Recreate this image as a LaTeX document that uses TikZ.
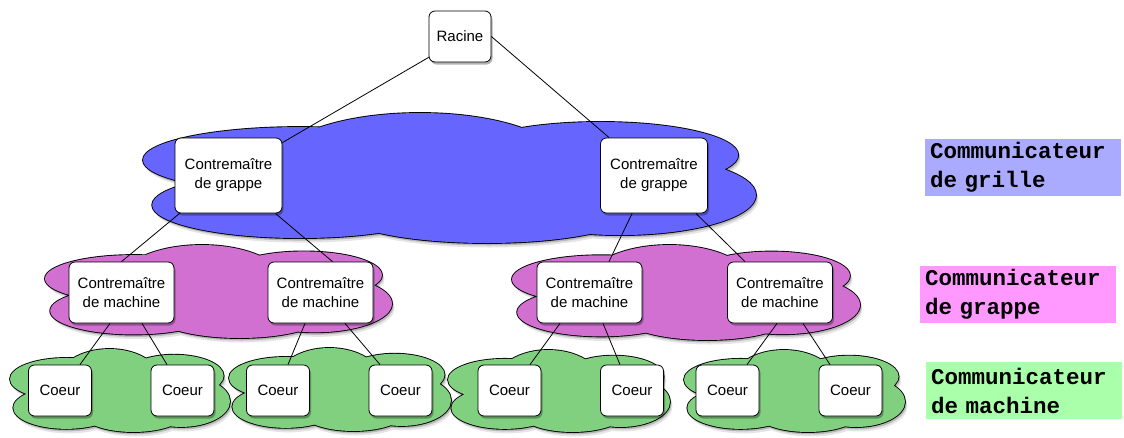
\documentclass[tikz,border=0pt]{standalone}
\usepackage{fontspec}
\setmainfont{Liberation Sans}
\newfontfamily\legfont{Liberation Mono}
\usetikzlibrary{shadows}
\definecolor{blueC}{RGB}{102,102,255}
\definecolor{pinkC}{RGB}{210,112,210}
\definecolor{greenC}{RGB}{128,208,128}
\definecolor{blueL}{RGB}{170,170,255}
\definecolor{pinkL}{RGB}{255,153,255}
\definecolor{greenL}{RGB}{170,255,170}
\newcommand{\cloudells}[5]{%
  \path[#1]
  (#2+0.256*#4,#3+0.362*#5) ellipse [x radius=0.256*#4pt, y radius=0.254*#5pt]
  (#2+0.452*#4,#3+0.400*#5) ellipse [x radius=0.237*#4pt, y radius=0.400*#5pt]
  (#2+0.746*#4,#3+0.323*#5) ellipse [x radius=0.225*#4pt, y radius=0.254*#5pt]
  (#2+0.778*#4,#3+0.631*#5) ellipse [x radius=0.222*#4pt, y radius=0.308*#5pt]
  (#2+0.561*#4,#3+0.746*#5) ellipse [x radius=0.245*#4pt, y radius=0.254*#5pt]
  (#2+0.256*#4,#3+0.708*#5) ellipse [x radius=0.241*#4pt, y radius=0.254*#5pt];}
\newcommand{\drawcloud}[5]{%
  \begin{scope}[shift={(2.5,4.5)}]\cloudells{fill=black!10}{#1}{#2}{#3}{#4}\end{scope}
  \begin{scope}[shift={(1.5,2.5)}]\cloudells{fill=black!28}{#1}{#2}{#3}{#4}\end{scope}
  \cloudells{draw=black, line width=1.8pt}{#1}{#2}{#3}{#4}
  \cloudells{fill=#5}{#1}{#2}{#3}{#4}}
\tikzset{
  box/.style={draw=black, line width=0.8pt, fill=white, rounded corners=6pt,
    align=center, inner sep=2pt, font=\fontsize{15}{19}\selectfont,
    drop shadow={shadow xshift=1.5pt, shadow yshift=-2.5pt, opacity=0.3, fill=black}},
  rootbox/.style={box, minimum width=62pt, minimum height=51pt},
  grappebox/.style={box, minimum width=107pt, minimum height=75pt},
  machbox/.style={box, minimum width=105pt, minimum height=61pt},
  corebox/.style={box, minimum width=63pt, minimum height=51pt},
  link/.style={draw=black, line width=0.8pt},
  legendbox/.style={anchor=north west, minimum height=57pt, text width=186pt,
    inner xsep=5pt, inner ysep=0pt, align=left,
    font=\legfont\bfseries\fontsize{22.5}{29}\selectfont}
}
\begin{document}
\begin{tikzpicture}[x=1pt,y=-1pt]
\useasboundingbox (0,0) rectangle (1124,437);
% clouds
\drawcloud{143}{113}{613}{130}{blueC}
\drawcloud{45}{245}{347}{93}{pinkC}
\drawcloud{512}{245}{348}{95}{pinkC}
\drawcloud{10}{349}{220}{83}{greenC}
\drawcloud{229}{348}{222}{83}{greenC}
\drawcloud{448}{350}{222}{82}{greenC}
\drawcloud{684}{350}{221}{82}{greenC}
% nodes
\node[rootbox] (r) at (460,36.5) {Racine};
\node[grappebox] (g1) at (228.5,175.5) {Contrema\^{\i}tre\\de grappe};
\node[grappebox] (g2) at (654,175.5) {Contrema\^{\i}tre\\de grappe};
\node[machbox] (m1) at (121.5,292.5) {Contrema\^{\i}tre\\de machine};
\node[machbox] (m2) at (320.5,292.5) {Contrema\^{\i}tre\\de machine};
\node[machbox] (m3) at (589.5,292.5) {Contrema\^{\i}tre\\de machine};
\node[machbox] (m4) at (780,292.5) {Contrema\^{\i}tre\\de machine};
\node[corebox] (c1) at (60,390.5) {Coeur};
\node[corebox] (c2) at (182.5,390.5) {Coeur};
\node[corebox] (c3) at (278,390.5) {Coeur};
\node[corebox] (c4) at (400.5,390.5) {Coeur};
\node[corebox] (c5) at (509.5,390.5) {Coeur};
\node[corebox] (c6) at (632,390.5) {Coeur};
\node[corebox] (c7) at (727.5,390.5) {Coeur};
\node[corebox] (c8) at (850.5,390.5) {Coeur};
% connectors
\draw[link] ([yshift=5pt]r.south west) -- ([yshift=-5pt]g1.north east);
\draw[link] (r.east) -- ([xshift=9pt]g2.north west);
\draw[link] ([xshift=5pt]g1.south west) -- (m1.north);
\draw[link] ([xshift=-7pt]g1.south east) -- ([xshift=12pt]m2.north);
\draw[link] ([xshift=32pt]g2.south west) -- ([xshift=19.5pt]m3.north);
\draw[link] ([xshift=-12pt]g2.south east) -- ([xshift=-35pt]m4.north);
\draw[link] ([xshift=-11.5pt]m1.south) -- ([xshift=20pt]c1.north);
\draw[link] ([xshift=20.5pt]m1.south) -- ([xshift=-15.5pt]c2.north);
\draw[link] ([xshift=-15.5pt]m2.south) -- ([xshift=10pt]c3.north);
\draw[link] ([xshift=24.5pt]m2.south) -- ([xshift=-20.5pt]c4.north);
\draw[link] ([xshift=-29.5pt]m3.south) -- ([xshift=20.5pt]c5.north);
\draw[link] ([xshift=13.5pt]m3.south) -- ([xshift=-12pt]c6.north);
\draw[link] ([xshift=-3pt]m4.south) -- ([xshift=19.5pt]c7.north);
\draw[link] ([xshift=23pt]m4.south) -- ([xshift=-20.5pt]c8.north);
% legend
\node[legendbox, fill=blueL] (lg) at (925,139) {Communicateur\\de grille};
\node[legendbox, fill=pinkL] (lp) at (920,266) {Communicateur\\de grappe};
\node[legendbox, fill=greenL] (lm) at (926,362) {Communicateur\\de machine};
\end{tikzpicture}
\end{document}
